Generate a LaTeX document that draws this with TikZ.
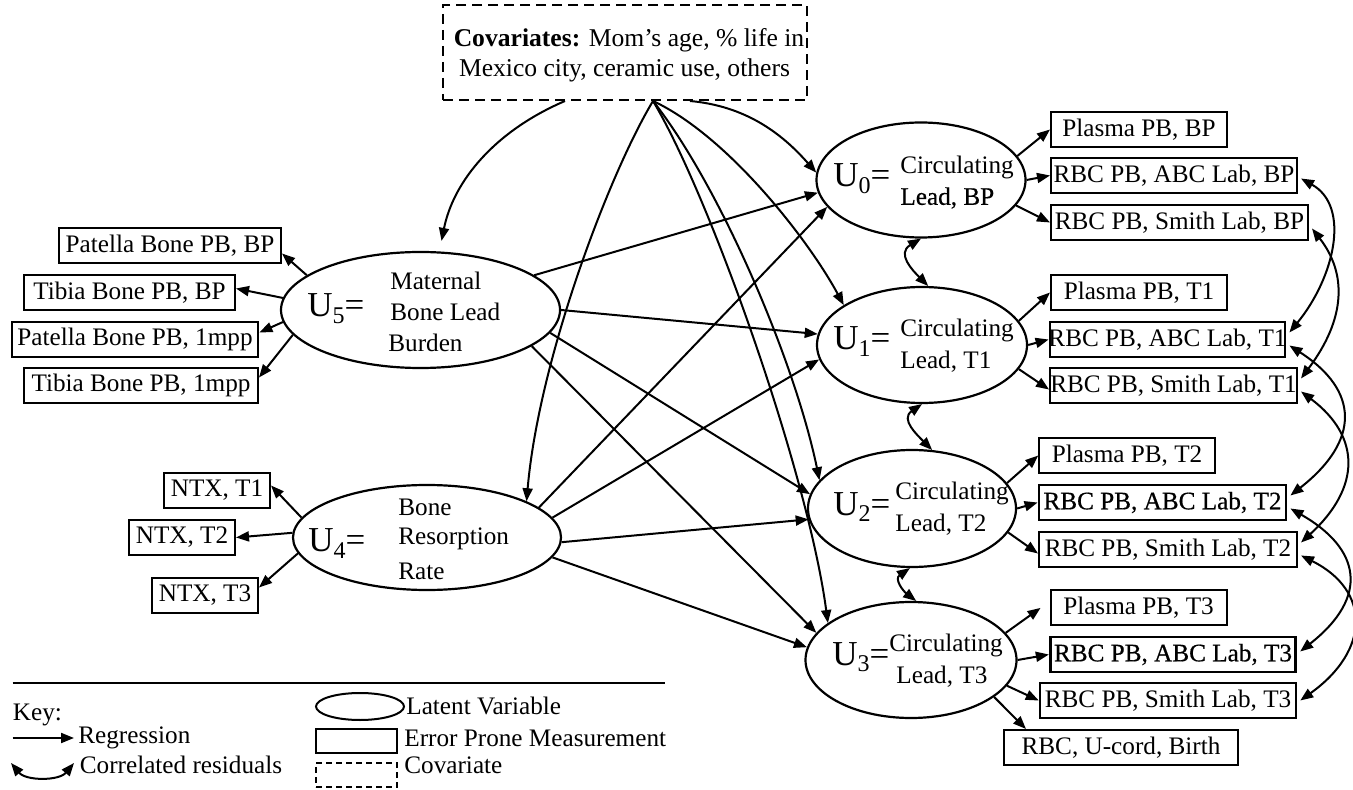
\documentclass[tikz,border=0pt]{standalone}
\usepackage{fontspec}
\setmainfont{Liberation Serif}
\newfontfamily\heavyfont[FakeBold=0.5]{Liberation Serif}
\usetikzlibrary{arrows.meta,shapes.geometric,calc}
\newcommand\ulab[1]{{\fontsize{17.5}{18}\selectfont U\raisebox{-3.3pt}{\fontsize{12}{12}\selectfont #1}=}}
\begin{document}
\begin{tikzpicture}[x=0.5pt,y=-0.5pt,
  every node/.style={font=\fontsize{12.6}{14}\selectfont},
  mbox/.style={draw, line width=1pt, inner xsep=0pt, inner ysep=0pt, minimum height=17.5pt},
  latent/.style={draw, ellipse, line width=1.1pt, inner sep=0pt},
  txt/.style={inner sep=0pt, anchor=west},
  ulabel/.style={inner sep=0pt, anchor=base west},
  reg/.style={line width=1pt, -{Triangle[length=6.5pt,width=5pt]}},
  cor/.style={line width=1pt, {Triangle[length=6.5pt,width=5pt]}-{Triangle[length=6.5pt,width=5pt]}},
]
\path[fill=white] (0,0) rectangle (1353,790);
\useasboundingbox (0,0) rectangle (1353,790);

% covariates
\node[draw, dash pattern=on 5pt off 3pt, line width=1pt, minimum width=182pt, minimum height=47.5pt, inner sep=0pt] (cov) at (625,52.5) {};
\node[inner sep=0pt, font=\fontsize{12.8}{15}\selectfont] (covtxt1) at (629,40) {\textbf{Covariates:} Mom’s age, \% life in};
\node[inner sep=0pt, font=\fontsize{12.8}{15}\selectfont] (covtxt2) at (624.5,70) {Mexico city, ceramic use, others};

% latent variables
\node[latent, minimum width=104.5pt, minimum height=57.5pt] (U0) at (921,180) {};
\node[latent, minimum width=105pt, minimum height=58pt] (U1) at (922,345) {};
\node[latent, minimum width=104pt, minimum height=58.5pt] (U2) at (912,508.5) {};
\node[latent, minimum width=105.5pt, minimum height=58pt] (U3) at (911,660) {};
\node[latent, minimum width=139.5pt, minimum height=58pt] (U5) at (420.5,310) {};
\node[latent, minimum width=134pt, minimum height=52.5pt] (U4) at (427,537.5) {};

\node[ulabel] (U0l) at (833,186.5) {\ulab{0}};
\node[txt] (U0a) at (900,167) {Circulating};
\node[txt] (U0b) at (900,198) {\heavyfont Lead, BP};
\node[ulabel] (U1l) at (833,350) {\ulab{1}};
\node[txt] (U1a) at (900,330) {Circulating};
\node[txt] (U1b) at (900,362) {Lead, T1};
\node[ulabel] (U2l) at (833,515) {\ulab{2}};
\node[txt] (U2a) at (895,493) {Circulating};
\node[txt] (U2b) at (895,525) {Lead, T2};
\node[ulabel] (U3l) at (832,665) {\ulab{3}};
\node[txt] (U3a) at (889,645) {Circulating};
\node[txt] (U3b) at (896,677) {Lead, T3};
\node[ulabel] (U5l) at (307,316.5) {\ulab{5}};
\node[txt] (U5a) at (390,281) {Maternal};
\node[txt] (U5b) at (390,312) {Bone Lead};
\node[txt] (U5c) at (388,343) {Burden};
\node[ulabel] (U4l) at (308,551.5) {\ulab{4}};
\node[txt] (U4a) at (398,507) {Bone};
\node[txt] (U4b) at (398,539) {Resorption};
\node[txt] (U4c) at (398,571) {Rate};

% measurements right
\node[mbox] (PlBP) at (1139,129.5) {\makebox[88pt]{Plasma PB, BP}};
\node[mbox] (ABCBP) at (1174,175.5) {\makebox[123pt]{RBC PB, ABC Lab, BP}};
\node[mbox] (SmBP) at (1179.5,222.5) {\makebox[128.5pt]{RBC PB, Smith Lab, BP}};
\node[mbox] (PlT1) at (1139,292.5) {\makebox[88pt]{Plasma PB, T1}};
\node[mbox, line width=1.4pt] (ABCT1) at (1167.5,339.5) {\makebox[117.5pt]{RBC PB, ABC Lab, T1}};
\node[mbox] (SmT1) at (1173.5,385.5) {\makebox[123.5pt]{RBC PB, Smith Lab, T1}};
\node[mbox] (PlT2) at (1127,455.5) {\makebox[87.75pt]{Plasma PB, T2}};
\node[mbox, line width=1.4pt] (ABCT2) at (1162.5,502.5) {\makebox[123.5pt]{\heavyfont RBC PB, ABC Lab, T2}};
\node[mbox] (SmT2) at (1168,549.5) {\makebox[129pt]{RBC PB, Smith Lab, T2}};
\node[mbox] (PlT3) at (1138.5,607.5) {\makebox[88pt]{Plasma PB, T3}};
\node[mbox, line width=1.4pt] (ABCT3) at (1173,654.5) {\makebox[122.75pt]{\heavyfont RBC PB, ABC Lab, T3}};
\node[mbox] (SmT3) at (1168,700.5) {\makebox[128.25pt]{RBC PB, Smith Lab, T3}};
\node[mbox] (Birth) at (1121,747.5) {\makebox[117pt]{RBC, U-cord, Birth}};

% measurements left
\node[mbox] (PatBP) at (170,245.5) {\makebox[111pt]{Patella Bone PB, BP}};
\node[mbox] (TibBP) at (129.5,292.5) {\makebox[105.5pt]{Tibia Bone PB, BP}};
\node[mbox, line width=1.4pt] (Pat1) at (135,339.5) {\makebox[123pt]{Patella Bone PB, 1mpp}};
\node[mbox] (Tib1) at (141,385.5) {\makebox[117pt]{Tibia Bone PB, 1mpp}};
\node[mbox] (N1) at (217,490.5) {\makebox[53pt]{NTX, T1}};
\node[mbox] (N2) at (182,537.5) {\makebox[53pt]{NTX, T2}};
\node[mbox] (N3) at (205,595.5) {\makebox[53pt]{NTX, T3}};

% measurement arrows, left
\draw[reg] (U5.163) -- ($(PatBP.east)+(0,8)$);
\draw[reg] (U5.175) -- ($(TibBP.east)+(0,-4)$);
\draw[reg] (U5.185) -- ($(Pat1.east)+(0,-7)$);
\draw[reg] (U5.191) -- ($(Tib1.east)+(0,-8)$);
\draw[reg] (U4.171) -- ($(N1.east)+(0,-5)$);
\draw[reg] (U4.178) -- (N2.east);
\draw[reg] (U4.187) -- ($(N3.east)+(0,-8)$);

% structural arrows
\draw[reg] (U5.17) -- (U0.187);
\draw[reg] (U5.0) -- (U1.174);
\draw[reg] (U5.-10) -- (U2.172);
\draw[reg] (U5.-18) -- (U3.164);
\draw[reg] (U4.15) -- (U0.196);
\draw[reg] (U4.9) -- (U1.188);
\draw[reg] (U4.-2) -- (U2.186);
\draw[reg] (U4.-9) -- (U3.173);

% measurement arrows, right
\draw[reg] (U0.14) -- (PlBP.west);
\draw[reg] (U0.0) -- (ABCBP.west);
\draw[reg] (U0.-15) -- (SmBP.west);
\draw[reg] (U1.14) -- (PlT1.west);
\draw[reg] (U1.0) -- (ABCT1.west);
\draw[reg] (U1.-14) -- ($(SmT1.west)+(0,4)$);
\draw[reg] (U2.15) -- (PlT2.west);
\draw[reg] (U2.0) -- (ABCT2.west);
\draw[reg] (U2.-14) -- ($(SmT2.west)+(0,4)$);
\draw[reg, shorten >=5.5pt] (U3.16) -- ($(PlT3.west)+(0,-6)$);
\draw[reg] (U3.0) -- (ABCT3.west);
\draw[reg] (U3.-15) -- (SmT3.west);
\draw[reg] (U3.-24) -- ($(Birth.north west)+(23,0)$);

% covariate arrows
\coordinate (apex) at ($(cov.south)+(28,0)$);
\coordinate (covL) at ($(cov.south)+(-60,0)$);
\coordinate (covR) at ($(cov.south)+(65,0)$);
\draw[reg] (covL) .. controls +(-70,30) and +(12,-60) .. ($(U5.north)+(21,-10)$);
\draw[reg] (covR) .. controls +(55,5) and +(-35,-40) .. (U0.176);
\draw[reg] (apex) .. controls +(75,35) and +(-35,-65) .. (U1.153);
\draw[reg] (apex) .. controls +(67,85) and +(-25,-120) .. (U2.163);
\draw[reg] (apex) .. controls +(57,95) and +(-20,-150) .. (U3.156);
\draw[reg] (apex) .. controls +(-45,75) and +(12,-140) .. (U4.20);

% correlated residuals between latent
\draw[cor] (U0.south) .. controls +(-25,15) and +(-15,-15) .. (U1.84);
\draw[cor] (U1.south) .. controls +(-22,15) and +(-15,-15) .. (U2.71);
\draw[cor] (U2.268) .. controls +(-16,11) and +(-13,-10) .. (U3.85);

% correlated residuals between measurements
\draw[cor] ($(ABCBP.east)+(3,3)$) .. controls +(50,28) and +(45,-55) .. ($(ABCT1.east)+(3,-7)$);
\draw[cor] ($(SmBP.east)+(3,6)$) .. controls +(35,45) and +(45,-60) .. ($(SmT1.east)+(3,-7)$);
\draw[cor] ($(ABCT1.east)+(3,6)$) .. controls +(70,45) and +(70,-55) .. ($(ABCT2.east)+(3,-7)$);
\draw[cor] ($(SmT1.east)+(3,6)$) .. controls +(60,45) and +(60,-55) .. ($(SmT2.east)+(3,-7)$);
\draw[cor] ($(ABCT2.east)+(3,6)$) .. controls +(70,40) and +(70,-55) .. ($(ABCT3.east)+(3,-3)$);
\draw[cor] ($(SmT2.east)+(3,6)$) .. controls +(70,35) and +(70,-50) .. ($(SmT3.east)+(3,0)$);

% key
\coordinate (k1) at (12.5,683);
\coordinate (k2) at (665,683);
\draw[line width=1pt] (k1) -- (k2);
\node[txt] (key) at (12.5,715) {Key:};
\coordinate (r1) at (12.5,738);
\coordinate (r2) at (74,738);
\draw[reg] (r1) -- (r2);
\node[txt] (regl) at (78,738) {Regression};
\coordinate (q1) at (11,763);
\coordinate (q2) at (74,763);
\draw[cor] (q1) .. controls +(15,18) and +(-15,18) .. (q2);
\node[txt] (corl) at (79.5,765) {Correlated residuals};
\node[latent, minimum width=44pt, minimum height=13.5pt, line width=1pt] (kell) at (360,706.5) {};
\node[txt] (kelll) at (406,706) {Latent Variable};
\node[draw, line width=1pt, minimum width=40.5pt, minimum height=12pt, inner sep=0pt] (krect) at (356.5,741) {};
\node[txt] (krectl) at (404,738) {Error Prone Measurement};
\node[draw, dash pattern=on 3pt off 2pt, line width=1pt, minimum width=40.5pt, minimum height=12pt, inner sep=0pt] (kdash) at (356.5,775) {};
\node[txt] (kdashl) at (404,765) {Covariate};
\end{tikzpicture}
\end{document}
